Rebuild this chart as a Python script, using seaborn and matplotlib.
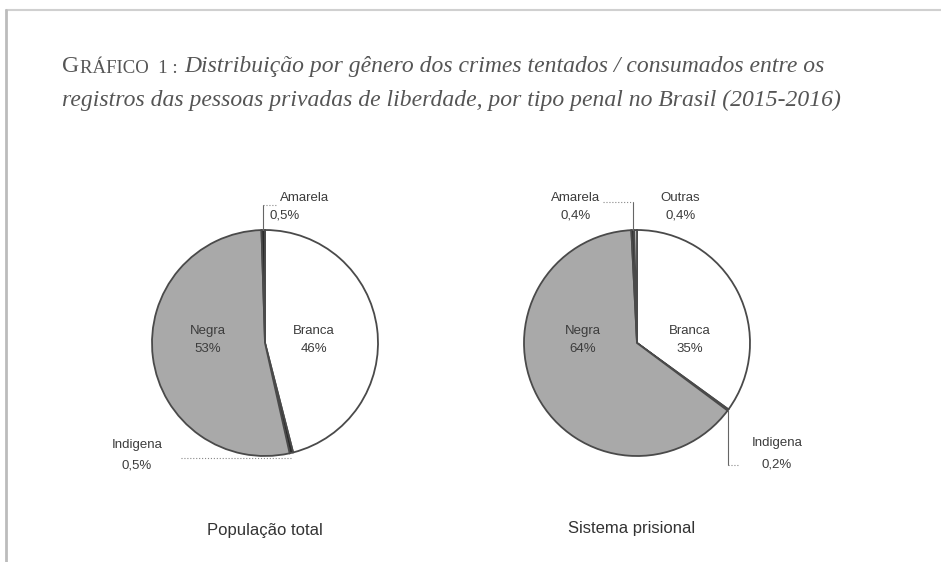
import numpy as np
import matplotlib
matplotlib.use("Agg")
import matplotlib.pyplot as plt
import seaborn as sns

# -----------------------------
# Data
# -----------------------------
pop_labels = ["Branca", "Indigena", "Negra", "Amarela"]
pop_values = [46, 0.5, 53, 0.5]
pop_text = ["46%", "0,5%", "53%", "0,5%"]

pris_labels = ["Branca", "Indigena", "Negra", "Amarela", "Outras"]
pris_values = [35, 0.2, 64, 0.4, 0.4]
pris_text = ["35%", "0,2%", "64%", "0,4%", "0,4%"]

subtitles = ["População total", "Sistema prisional"]
title_cap = "G"
title_rest = "RÁFICO  1 :"
title_line1 = "Distribuição por gênero dos crimes tentados / consumados entre os"
title_line2 = "registros das pessoas privadas de liberdade, por tipo penal no Brasil (2015-2016)"

colors = {"Branca": "#ffffff", "Negra": "#a9a9a9", "Indigena": "#2a2a2a",
          "Amarela": "#2a2a2a", "Outras": "#c9c9c9"}

# -----------------------------
# Figure
# -----------------------------
sns.set_theme(style="white")
plt.rcParams["font.family"] = ["Liberation Sans", "DejaVu Sans"]

W, H = 941, 562
fig = plt.figure(figsize=(W / 100, H / 100), dpi=100)
fig.patch.set_facecolor("white")

# background axes in pixel coordinates
bg = fig.add_axes([0, 0, 1, 1])
bg.set_xlim(0, W)
bg.set_ylim(H, 0)
bg.axis("off")

# frame
bg.plot([6, W], [10, 10], color="#d0d0d0", lw=1.5)
bg.plot([6, 6], [10, H], color="#bcbcbc", lw=2)

# title (small caps imitation for the head)
tcol = "#555555"
serif = "Liberation Serif"
t0 = bg.text(62, 72, title_cap, fontsize=17, family=serif, color=tcol, va="baseline")
t1 = bg.annotate(title_rest, xy=(1, 0), xycoords=t0, xytext=(1, 0),
                 textcoords="offset pixels", fontsize=13.5, family=serif,
                 color=tcol, va="bottom")
bg.annotate(title_line1, xy=(1, 0), xycoords=t1, xytext=(7, 0),
            textcoords="offset pixels", fontsize=17, style="italic",
            family=serif, color=tcol, va="bottom")
bg.text(62, 106, title_line2, fontsize=17, style="italic",
        family=serif, color=tcol, va="baseline")

R = 113  # radius in pixels
txt = "#3c3c3c"
fs = 9.5


def pie_axes(cx, cy):
    half = 170
    ax = fig.add_axes([(cx - half) / W, 1 - (cy + half) / H, 2 * half / W, 2 * half / H])
    ax.axis("off")
    return ax


def to_data(px, py, cx, cy):
    return (px - cx) / R, (cy - py) / R


def draw_pie(ax, labels, values):
    wedges, _ = ax.pie(values, colors=[colors[l] for l in labels], startangle=90,
                       counterclock=False, radius=1,
                       wedgeprops=dict(edgecolor="#4a4a4a", linewidth=1.3))
    ax.set_xlim(-170 / R, 170 / R)
    ax.set_ylim(-170 / R, 170 / R)
    return wedges


def wedge_point(w, r=1.0):
    ang = np.deg2rad((w.theta1 + w.theta2) / 2)
    return r * np.cos(ang), r * np.sin(ang)


def label(ax, px, py, cx, cy, s, **kw):
    ax.text(*to_data(px, py, cx, cy), s, ha="center", va="center",
            fontsize=fs, color=txt, **kw)


# -----------------------------
# Left pie: população total
# -----------------------------
cx1, cy1 = 265, 343
ax1 = pie_axes(cx1, cy1)
w1 = draw_pie(ax1, pop_labels, pop_values)

label(ax1, 208, 340, cx1, cy1, f"Negra\n{pop_text[2]}", linespacing=1.7)
label(ax1, 314, 340, cx1, cy1, f"Branca\n{pop_text[0]}", linespacing=1.7)

# Amarela leader
ax_, ay_ = wedge_point(w1[3])
top = to_data(0, 205, cx1, cy1)[1]
ax1.plot([ax_, ax_], [ay_, top], color="#666", lw=0.8)
ax1.plot([ax_, ax_ + 0.12], [top, top], color="#888", lw=0.8, ls=":")
label(ax1, 305, 198, cx1, cy1, "Amarela")
label(ax1, 285, 216, cx1, cy1, pop_text[3])

# Indigena leader
ix, iy = wedge_point(w1[1])
ly = to_data(0, 458, cx1, cy1)[1]
ax1.plot([ix, to_data(180, 0, cx1, cy1)[0]], [ly, ly], color="#888", lw=0.8, ls=":")
label(ax1, 137, 445, cx1, cy1, "Indigena")
label(ax1, 137, 466, cx1, cy1, pop_text[1])

# -----------------------------
# Right pie: sistema prisional
# -----------------------------
cx2, cy2 = 637, 343
ax2 = pie_axes(cx2, cy2)
w2 = draw_pie(ax2, pris_labels, pris_values)

label(ax2, 583, 340, cx2, cy2, f"Negra\n{pris_text[2]}", linespacing=1.7)
label(ax2, 690, 340, cx2, cy2, f"Branca\n{pris_text[0]}", linespacing=1.7)

# Amarela / Outras leader
mx, my = wedge_point(w2[3])
top2 = to_data(0, 202, cx2, cy2)[1]
ax2.plot([mx, mx], [my, top2], color="#666", lw=0.8)
ax2.plot([to_data(603, 0, cx2, cy2)[0], mx], [top2, top2], color="#888", lw=0.8, ls=":")
label(ax2, 576, 198, cx2, cy2, "Amarela")
label(ax2, 576, 216, cx2, cy2, pris_text[3])
label(ax2, 680, 198, cx2, cy2, "Outras")
label(ax2, 681, 216, cx2, cy2, pris_text[4])

# Indigena leader
ix2, iy2 = wedge_point(w2[1])
low2 = to_data(0, 465, cx2, cy2)[1]
ax2.plot([ix2, ix2], [iy2, low2], color="#666", lw=0.8)
ax2.plot([ix2, ix2 + 0.1], [low2, low2], color="#888", lw=0.8, ls=":")
label(ax2, 777, 443, cx2, cy2, "Indigena")
label(ax2, 777, 465, cx2, cy2, pris_text[1])

# subtitles
bg.text(265, 530, subtitles[0], ha="center", va="center", fontsize=12, color="#333")
bg.text(632, 528, subtitles[1], ha="center", va="center", fontsize=12, color="#333")

fig.savefig("out.png", dpi=100)
